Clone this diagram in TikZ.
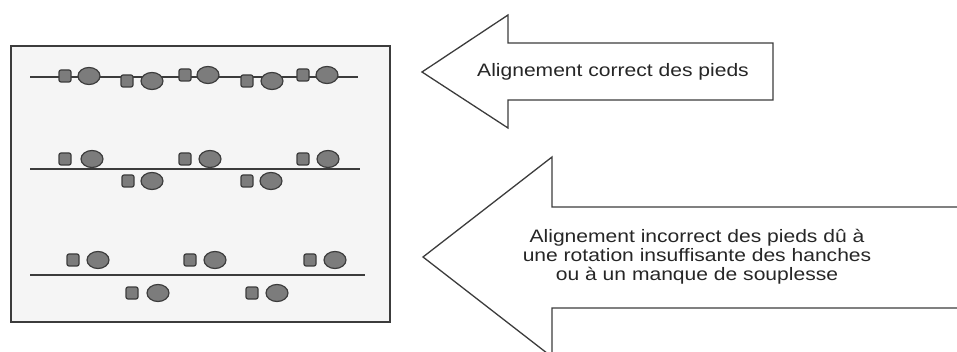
\documentclass[tikz,border=0pt]{standalone}
\usepackage{fontspec}
\newfontfamily\labelfont{Liberation Sans}
\definecolor{ink}{HTML}{3C3C3C}
\definecolor{sole}{HTML}{7C7C7C}
\definecolor{paper}{HTML}{F5F5F5}

\begin{document}
\begin{tikzpicture}[x=1pt, y=-1pt,
    track/.style={draw=ink, line width=2pt},
    toe/.style={fill=sole, draw=ink, line width=1.2pt, rounded corners=2pt},
    heel/.style={fill=sole, draw=ink, line width=1.2pt},
    bigarrow/.style={draw=ink, line width=1.3pt, fill=white, line join=miter},
    caption/.style={font=\labelfont\fontsize{18}{19}\selectfont, align=center,
      text=black!85, xscale=1.17, transform shape}]
  \useasboundingbox (0,0) rectangle (957,352);
  \clip (0,0) rectangle (957,352);

  % the board with the three walks
  \draw[ink, line width=2pt, fill=paper] (11,46) rectangle (390,322);

  \draw[track] (30,77.5) -- (358,77.5);
  \draw[track] (30,169) -- (360,169);
  \draw[track] (30,275) -- (365,275);

  % footprints: toe x / heel x / y
  \foreach \t/\h/\y in {65/89/76, 127/152/81, 185/208/75, 247/272/81, 303/327/75,
                        65/92/159, 185/210/159, 303/328/159, 128/152/181, 247/271/181,
                        73/98/260, 190/215/260, 310/335/260, 132/158/293, 252/277/293} {
    \filldraw[toe] (\t-6,\y-6) rectangle (\t+6,\y+6);
    \filldraw[heel] (\h,\y) ellipse (11 and 8.5);
  }

  % upper arrow
  \coordinate (tipA) at (422,72);
  \draw[bigarrow] (tipA) -- (508,15) -- (508,43) -- (773,43) -- (773,100)
    -- (508,100) -- (508,128) -- cycle;
  \node[caption] (good) at (613,72) {Alignement correct des pieds};

  % lower arrow, its shaft runs off to the right
  \coordinate (tipB) at (423,257);
  \draw[bigarrow] (965,207) -- (552,207) -- (552,157) -- (tipB) -- (552,357)
    -- (552,308) -- (965,308);
  \node[caption] (bad) at (697,257) {Alignement incorrect des pieds dû à\\
    une rotation insuffisante des hanches\\ ou à un manque de souplesse};
\end{tikzpicture}
\end{document}
